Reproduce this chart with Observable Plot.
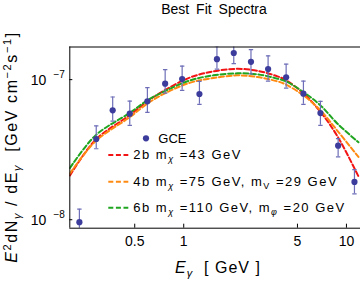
<!DOCTYPE html>
<html><head><meta charset="utf-8">
<script src="https://cdn.jsdelivr.net/npm/d3@7"></script>
<script src="https://cdn.jsdelivr.net/npm/@observablehq/plot@0.6"></script>
<style>
html,body{margin:0;padding:0;background:#fff;overflow:hidden}
#chart{width:360px;height:282px}
</style></head><body><div id="chart"></div>
<script>
// GCE data points (energy in GeV, E^2 dN/dE in GeV cm^-2 s^-1)
const gceE    = [0.2285, 0.29, 0.366, 0.466, 0.598, 0.769, 0.978, 1.249, 1.60, 2.03, 2.59, 3.30, 4.26, 5.44, 6.92, 8.89, 11.2];
const gceFlux = [9.6e-9, 3.77e-8, 6.04e-8, 5.72e-8, 7.0e-8, 9.36e-8, 1.01e-7, 7.9e-8, 1.40e-7, 1.55e-7, 1.34e-7, 1.19e-7, 1.04e-7, 7.94e-8, 5.77e-8, 3.38e-8, 1.86e-8];
const gceLo   = [7.6e-9, 3.21e-8, 5.06e-8, 4.72e-8, 5.83e-8, 8.02e-8, 8.39e-8, 6.67e-8, 1.19e-7, 1.30e-7, 1.10e-7, 9.77e-8, 8.71e-8, 6.67e-8, 4.72e-8, 2.81e-8, 1.53e-8];
const gceHi   = [1.19e-8, 4.67e-8, 7.52e-8, 7.03e-8, 8.77e-8, 1.178e-7, 1.25e-7, 9.73e-8, 1.74e-7, 1.85e-7, 1.64e-7, 1.48e-7, 1.29e-7, 9.77e-8, 7.0e-8, 3.79e-8, 2.28e-8];

// Best fit spectra
const curveE = [0.2, 0.287, 0.464, 0.598, 0.772, 1.099, 1.522, 2.138, 2.838, 3.767, 4.217, 5.441, 6.922, 8.806, 11.85];
const fit2b  = [2.07e-8, 3.715e-8, 5.56e-8, 7.0e-8, 8.46e-8, 1.038e-7, 1.146e-7, 1.194e-7, 1.156e-7, 1.056e-7, 9.97e-8, 7.98e-8, 5.89e-8, 3.94e-8, 2.04e-8];
const fit4b  = [2.14e-8, 3.63e-8, 5.38e-8, 6.74e-8, 8.02e-8, 9.52e-8, 1.027e-7, 1.073e-7, 1.044e-7, 9.72e-8, 9.26e-8, 7.72e-8, 6.03e-8, 4.31e-8, 2.81e-8];
const fit6b  = [2.34e-8, 4.0e-8, 5.77e-8, 7.11e-8, 8.32e-8, 9.89e-8, 1.073e-7, 1.109e-7, 1.091e-7, 1.016e-7, 9.77e-8, 8.15e-8, 6.55e-8, 4.85e-8, 3.57e-8];

const xTicks = [0.5, 1, 5, 10];
const xTickLabels = ["0.5", "1", "5", "10"];
const yTicks = [1e-8, 1e-7];
const yTickExp = ["\u22128", "\u22127"];
const seriesColors = ["#f21414", "#ff8a12", "#1fa51f"];
const xDomain = [0.1995, 12.2];
const yDomain = [8.7e-9, 1.71e-7];

const W = 360, H = 282, mL = 69.3, mT = 46.5, mB = 54.3;
const dotColor = "#3c3c9c", barColor = "#6e6eb8";

const gce = gceE.map((E, i) => ({E, v: gceFlux[i], lo: gceLo[i], hi: gceHi[i]}));
const curves = [
  ...curveE.map((E, i) => ({E, v: fit2b[i], s: "2b"})),
  ...curveE.map((E, i) => ({E, v: fit4b[i], s: "4b"})),
  ...curveE.map((E, i) => ({E, v: fit6b[i], s: "6b"}))
];
const capSymbol = {draw(ctx) { ctx.moveTo(-2.2, 0); ctx.lineTo(2.2, 0); }};
const innerW = W - mL, innerH = H - mT - mB;

const svg = Plot.plot({
  width: W, height: H,
  marginLeft: mL, marginRight: 0, marginTop: mT, marginBottom: mB,
  style: {fontFamily: "'Liberation Sans', Arial, sans-serif", fontSize: "14px", background: "white", color: "black", overflow: "visible"},
  x: {type: "log", domain: xDomain, axis: null},
  y: {type: "log", domain: yDomain, axis: null},
  color: {domain: ["2b", "4b", "6b"], range: seriesColors},
  marks: [
    Plot.line(curves, {x: "E", y: "v", z: "s", stroke: "s", strokeWidth: 2, strokeDasharray: "5,2.6", curve: "catmull-rom", clip: true}),
    Plot.ruleX(gce, {x: "E", y1: "lo", y2: "hi", stroke: barColor, strokeWidth: 1.2, clip: true}),
    Plot.dot(gce, {x: "E", y: "lo", symbol: capSymbol, stroke: barColor, strokeWidth: 1.2, clip: true}),
    Plot.dot(gce, {x: "E", y: "hi", symbol: capSymbol, stroke: barColor, strokeWidth: 1.2, clip: true}),
    Plot.dot(gce, {x: "E", y: "v", r: 3.1, fill: dotColor, clip: true}),
    // frame (left, top, bottom)
    Plot.ruleX([xDomain[0]], {stroke: "black", strokeWidth: 1}),
    Plot.ruleY([yDomain[0], yDomain[1]], {stroke: "black", strokeWidth: 1}),
    // ticks inside the frame
    Plot.tickX(xTicks, {x: d => d, insetTop: innerH - 4, stroke: "black"}),
    Plot.tickY(yTicks, {y: d => d, insetRight: innerW - 3, stroke: "black"}),
    Plot.text(xTicks, {x: d => d, text: (d, i) => xTickLabels[i], frameAnchor: "bottom", lineAnchor: "bottom", dy: 17.3, fontSize: 14}),
    Plot.text(yTicks, {y: d => d, text: () => "10", frameAnchor: "left", lineAnchor: "bottom", textAnchor: "end", dx: -23.5, dy: 5, fontSize: 14}),
    Plot.text(yTicks, {y: d => d, text: (d, i) => yTickExp[i], frameAnchor: "left", lineAnchor: "bottom", textAnchor: "end", dx: -5, dy: -1.5, fontSize: 10, letterSpacing: "1.5px"})
  ]
});
document.getElementById("chart").appendChild(svg);

const root = d3.select(svg);
function rich(g, parts) {
  let prev = 0;
  for (const p of parts) {
    const shift = p.shift || 0;
    const ts = g.append("tspan").text(p.t).attr("dy", shift - prev);
    if (p.size) ts.attr("font-size", p.size);
    if (p.italic) ts.attr("font-style", "italic");
    prev = shift;
  }
}

// title
root.append("text").attr("x", 214).attr("y", 14).attr("text-anchor", "middle")
  .attr("font-size", 14).attr("word-spacing", 3).text("Best Fit Spectra");

// x label
const xl = root.append("text").attr("x", 175).attr("y", 273.3).attr("text-anchor", "start")
  .attr("font-size", 16).attr("letter-spacing", 1);
rich(xl, [{t: "E", italic: true}, {t: "\u03b3", shift: 4, size: 11, italic: true}, {t: "  [ GeV ]"}]);

// y label
const yl = root.append("text").attr("transform", "translate(16.5,147) rotate(-90)")
  .attr("text-anchor", "middle").attr("font-size", 16).attr("letter-spacing", 1.6);
rich(yl, [
  {t: "E", italic: true}, {t: "2", shift: -6, size: 11}, {t: "dN"}, {t: "\u03b3", shift: 4, size: 11, italic: true},
  {t: " / dE"}, {t: "\u03b3", shift: 4, size: 11, italic: true}, {t: "  [GeV cm"}, {t: "\u22122", shift: -6, size: 11},
  {t: "s"}, {t: "\u22121", shift: -6, size: 11}, {t: "]"}
]);

// legend
const lg = root.append("g").attr("font-size", 13).attr("letter-spacing", 1.5).attr("text-anchor", "start");
lg.append("circle").attr("cx", 146).attr("cy", 138.3).attr("r", 3.1).attr("fill", dotColor);
lg.append("text").attr("x", 158.3).attr("y", 142.5).attr("letter-spacing", 0).text("GCE");
const legendRows = [
  [{t: "2b m"}, {t: "\u03c7", shift: 3, size: 9, italic: true}, {t: " =43 GeV"}],
  [{t: "4b m"}, {t: "\u03c7", shift: 3, size: 9, italic: true}, {t: " =75 GeV, m"}, {t: "V", shift: 3, size: 9}, {t: " =29 GeV"}],
  [{t: "6b m"}, {t: "\u03c7", shift: 3, size: 9, italic: true}, {t: " =110 GeV, m"}, {t: "\u03c6", shift: 3, size: 9, italic: true}, {t: " =20 GeV"}]
];
const rowY = [155, 181.7, 207.7];
legendRows.forEach((parts, i) => {
  lg.append("line").attr("x1", 108.3).attr("x2", 128.3).attr("y1", rowY[i]).attr("y2", rowY[i])
    .attr("stroke", seriesColors[i]).attr("stroke-width", 2).attr("stroke-dasharray", "5,2.6");
  const t = lg.append("text").attr("x", 133.3).attr("y", rowY[i] + 4.3);
  rich(t, parts);
});
</script></body></html>
